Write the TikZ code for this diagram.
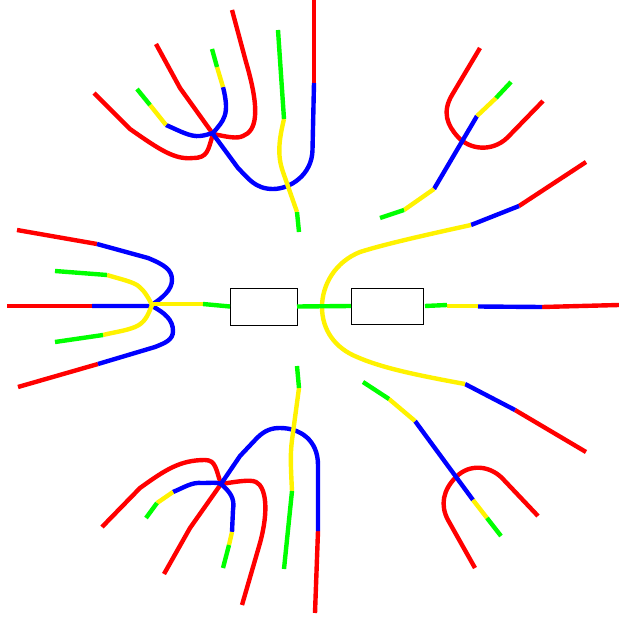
\documentclass[tikz,border=0pt]{standalone}
\tikzset{
    redline/.style={draw=red,line width=4.4pt},
    blueline/.style={draw=blue,line width=4.4pt},
    yellowline/.style={draw=yellow,line width=4.4pt},
    greenline/.style={draw=green,line width=4.4pt},
    portbox/.style={draw=black,fill=white,line width=1pt,inner sep=0pt,outer sep=0pt}
}
\begin{document}
\begin{tikzpicture}[x=1pt,y=-1pt]
    \useasboundingbox (0,0) rectangle (619,618);
    % red
    \draw[redline] (94,93) -- (130,129) .. controls (160,150) and (175,160) .. (193,158) .. controls (208,158) and (208,150) .. (213,134);
    \draw[redline] (156,44) -- (180,88) -- (213,134) .. controls (228,137) and (237,139) .. (243,136) .. controls (256,131) and (261,113) .. (246,62) -- (232,10);
    \draw[redline] (314,0) -- (314,83);
    \draw[redline] (17,230) -- (97,244);
    \draw[redline] (7,306) -- (92,306);
    \draw[redline] (18,387) -- (98,364);
    \draw[redline] (102,527) -- (140,488) .. controls (165,470) and (180,460) .. (205,460) .. controls (216,460) and (216,470) .. (221,484);
    \draw[redline] (164,574) -- (190,528) -- (221,484) .. controls (235,482) and (250,479) .. (256,482) .. controls (266,487) and (269,510) .. (260,543) -- (242,605);
    \draw[redline] (318,531) -- (315,613);
    \draw[redline] (480,48) -- (452,95) .. controls (442,112) and (447,125) .. (458,137) .. controls (470,150) and (492,152) .. (507,138) -- (543,101);
    \draw[redline] (586,162) -- (519,206);
    \draw[redline] (542,307) -- (619,305);
    \draw[redline] (586,452) -- (515,410);
    \draw[redline] (538,516) -- (502,478) .. controls (490,466) and (470,463) .. (456,477) .. controls (443,490) and (440,505) .. (448,520) -- (475,568);
    % blue
    \draw[blueline] (166,125) .. controls (180,131) and (190,137) .. (200,136) .. controls (205,135.5) and (209,134) .. (213,133) .. controls (224,120) and (230,115) .. (223,87);
    \draw[blueline] (314,83) -- (312.5,150) .. controls (312,175) and (290,189) .. (273,189) .. controls (255,189) and (248,178) .. (238,168) -- (213,134);
    \draw[blueline] (97,244) -- (148,258) .. controls (165,265) and (172,270) .. (172,280) .. controls (172,290) and (162,298) .. (153,304);
    \draw[blueline] (92,306) -- (152,306) .. controls (165,313) and (173,320) .. (173,331) .. controls (173,340) and (165,343) .. (155,347) -- (98,364);
    \draw[blueline] (173,492) .. controls (185,487) and (192,482) .. (202,483) .. controls (212,483) and (217,482) .. (221,484) .. controls (230,492) and (235,498) .. (233,510) -- (232,532);
    \draw[blueline] (221,484) -- (240,456) -- (257,438) .. controls (265,430) and (272,428) .. (280,428) .. controls (300,428) and (318,440) .. (318,465) -- (318,531);
    \draw[blueline] (477,116) -- (434,189);
    \draw[blueline] (519,206) -- (471,225);
    \draw[blueline] (478,306.5) -- (542,307);
    \draw[blueline] (465,384) -- (515,410);
    \draw[blueline] (415,421) -- (473,500);
    % yellow
    \draw[yellowline] (150,105) -- (166,125);
    \draw[yellowline] (223,87) -- (217,67);
    \draw[yellowline] (284,119) .. controls (279,140) and (277,155) .. (283,172) -- (297,212);
    \draw[yellowline] (107,275) .. controls (120,279) and (130,281) .. (137,285) .. controls (144,290) and (148,297) .. (152,305) .. controls (148,315) and (145,323) .. (135,327) .. controls (125,331) and (115,332) .. (103,335);
    \draw[yellowline] (152,304) -- (203,304);
    \draw[yellowline] (157,503) -- (173,492);
    \draw[yellowline] (232,532) -- (229,545);
    \draw[yellowline] (299,388) -- (292,440) .. controls (290,455) and (291,470) .. (292,491);
    \draw[yellowline] (496,98) -- (477,116);
    \draw[yellowline] (434,189) -- (404,210);
    \draw[yellowline] (471,225) .. controls (430,234) and (385,244) .. (360,252) .. controls (335,262) and (322,285) .. (322,307) .. controls (322,330) and (335,348) .. (357,357) .. controls (380,367) and (410,374) .. (465,384);
    \draw[yellowline] (447,306) -- (478,306);
    \draw[yellowline] (389,399) -- (415,421);
    \draw[yellowline] (473,500) -- (487,518);
    % green
    \draw[greenline] (137,89) -- (150,105);
    \draw[greenline] (212,49) -- (217,67);
    \draw[greenline] (278,30) -- (284,119);
    \draw[greenline] (297,212) -- (299,232);
    \draw[greenline] (55,271) -- (107,275);
    \draw[greenline] (55,342) -- (103,335);
    \draw[greenline] (146,518) -- (157,503);
    \draw[greenline] (229,545) -- (223,568);
    \draw[greenline] (297,366) -- (299,388);
    \draw[greenline] (292,491) -- (284,569);
    \draw[greenline] (511,82) -- (496,98);
    \draw[greenline] (404,210) -- (380,218);
    \draw[greenline] (425,306) -- (447,305);
    \draw[greenline] (363,382) -- (389,399);
    \draw[greenline] (487,518) -- (501,536);
    % boxes
    \node[portbox,minimum width=67pt,minimum height=37pt] (leftbox) at (263.5,306.5) {};
    \node[portbox,minimum width=72pt,minimum height=36pt] (rightbox) at (387,306) {};
    \coordinate (leftend) at (203,304);
    \draw[greenline] (leftend) -- (leftbox.west);
    \draw[greenline] (leftbox.east) -- (rightbox.west);
\end{tikzpicture}
\end{document}
